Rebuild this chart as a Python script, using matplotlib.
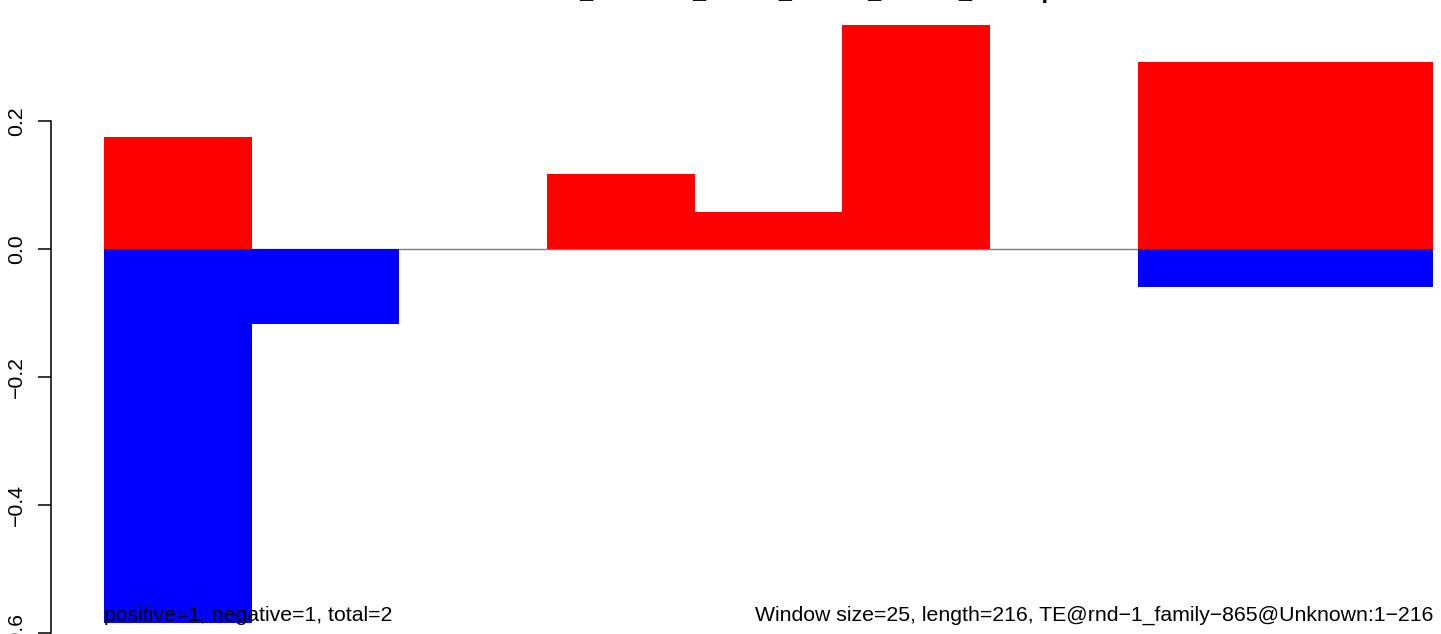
import matplotlib
matplotlib.use("Agg")
import matplotlib.pyplot as plt

plt.rcParams['font.family'] = ['Liberation Sans', 'DejaVu Sans']

# window scores (9 windows of 25 bp over a 216 bp TE)
windows = [1, 2, 3, 4, 5, 6, 7, 8, 9]
positive_scores = [0.175, 0.0, 0.0, 0.117, 0.058, 0.350, 0.0, 0.292, 0.292]
negative_scores = [-0.584, -0.117, 0.0, 0.0, 0.0, 0.0, 0.0, -0.059, -0.059]
ytick_values = [0.2, 0.0, -0.2, -0.4, -0.6]
ytick_labels = ['0.2', '0.0', '\u22120.2', '\u22120.4', '\u22120.6']

title_text = 'Orientation_windows_strand_scores_counts_overlap'
left_note = 'positive=1, negative=1, total=2'
right_note = 'Window size=25, length=216, TE@rnd\u22121_family\u2212865@Unknown:1\u2212216'

# layout in pixels of the 1441x634 output
W, H = 1441, 634
plot_left_px, plot_right_px = 104, 1433
zero_px, unit_px = 249, 640
spine_px = 51

n = len(windows)
px_per_win = (plot_right_px - plot_left_px) / n

fig = plt.figure(figsize=(W / 100, H / 100), dpi=100)
ax = fig.add_axes([0, 0, 1, 1])
ax.set_xlim(-plot_left_px / px_per_win, n + (W - plot_right_px) / px_per_win)
ax.set_ylim((zero_px - H) / unit_px, zero_px / unit_px)

starts = [w - 1 for w in windows]
ax.plot([0, n], [0, 0], color='#808080', lw=1.0, zorder=1)
ax.bar(starts, positive_scores, width=1, align='edge', color='#FF0000', linewidth=0, zorder=2)
ax.bar(starts, negative_scores, width=1, align='edge', color='#0000FF', linewidth=0, zorder=2)

# R style left axis
for s in ['top', 'right', 'bottom']:
    ax.spines[s].set_visible(False)
ax.spines['left'].set_position(('data', (spine_px - plot_left_px) / px_per_win))
ax.spines['left'].set_bounds(min(ytick_values), max(ytick_values))
ax.spines['left'].set_linewidth(1.1)
ax.set_xticks([])
ax.set_yticks(ytick_values)
ax.set_yticklabels(ytick_labels, rotation=90, va='center', fontsize=15.3)
ax.tick_params(axis='y', length=9.4, width=1.1, pad=8.5)

# notes at the bottom of the plot region
ax.text(0, -0.581, left_note, ha='left', va='baseline', fontsize=15.3)
ax.text(n, -0.581, right_note, ha='right', va='baseline', fontsize=15.3)

# title sits above the picture, only its underscores and descenders show
ax.text(n / 2 - 0.09, 0.3925, title_text, ha='center', va='baseline', fontsize=17,
        fontweight='bold', clip_on=False)

fig.savefig('out.png', dpi=100)
